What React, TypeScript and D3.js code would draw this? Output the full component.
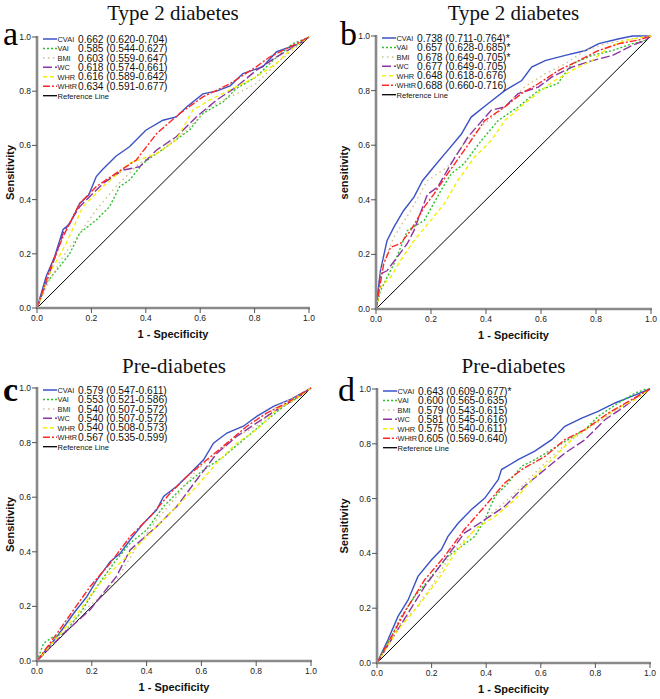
import React from "react";
import * as d3 from "d3";

type P = [number, number];

// Series names & legend values
const seriesNames = ["CVAI", "VAI", "BMI", "WC", "WHR", "WHtR"];
const panelTitles = ["Type 2 diabetes", "Type 2 diabetes", "Pre-diabetes", "Pre-diabetes"];
const panelLetters = ["a", "b", "c", "d"];
const yAxisLabels = ["Sensitivity", "sensitivity", "Sensitivity", "Sensitivity"];
const ticks = [0, 0.2, 0.4, 0.6, 0.8, 1.0];

const legendA = ["0.662 (0.620-0.704)", "0.585 (0.544-0.627)", "0.603 (0.559-0.647)", "0.618 (0.574-0.661)", "0.616 (0.589-0.642)", "0.634 (0.591-0.677)"];
const legendB = ["0.738 (0.711-0.764)*", "0.657 (0.628-0.685)*", "0.678 (0.649-0.705)*", "0.677 (0.649-0.705)", "0.648 (0.618-0.676)", "0.688 (0.660-0.716)"];
const legendC = ["0.579 (0.547-0.611)", "0.553 (0.521-0.586)", "0.540 (0.507-0.572)", "0.540 (0.507-0.572)", "0.540 (0.508-0.573)", "0.567 (0.535-0.599)"];
const legendD = ["0.643 (0.609-0.677)*", "0.600 (0.565-0.635)", "0.579 (0.543-0.615)", "0.581 (0.545-0.616)", "0.575 (0.540-0.611)", "0.605 (0.569-0.640)"];

// Panel a: Type 2 diabetes
const aCVAI: P[] = [[0,0],[0.034,0.117],[0.065,0.19],[0.096,0.29],[0.12,0.31],[0.157,0.386],[0.19,0.417],[0.218,0.485],[0.24,0.51],[0.29,0.56],[0.34,0.595],[0.40,0.656],[0.463,0.693],[0.512,0.705],[0.55,0.742],[0.61,0.79],[0.66,0.8],[0.71,0.82],[0.757,0.865],[0.83,0.89],[0.88,0.945],[0.93,0.963],[0.966,0.975],[1,1]];
const aVAI: P[] = [[0,0],[0.034,0.092],[0.083,0.153],[0.12,0.2],[0.157,0.276],[0.218,0.325],[0.267,0.374],[0.304,0.448],[0.34,0.472],[0.39,0.534],[0.44,0.57],[0.51,0.62],[0.56,0.656],[0.61,0.718],[0.684,0.76],[0.733,0.81],[0.806,0.853],[0.868,0.914],[0.94,0.975],[1,1]];
const aBMI: P[] = [[0,0],[0.047,0.104],[0.096,0.19],[0.157,0.276],[0.218,0.362],[0.29,0.448],[0.377,0.534],[0.463,0.583],[0.55,0.656],[0.635,0.742],[0.733,0.79],[0.806,0.828],[0.88,0.902],[0.953,0.963],[1,1]];
const aWC: P[] = [[0,0],[0.034,0.092],[0.096,0.276],[0.157,0.374],[0.243,0.46],[0.316,0.509],[0.377,0.521],[0.44,0.583],[0.512,0.632],[0.586,0.705],[0.66,0.767],[0.733,0.816],[0.806,0.877],[0.88,0.926],[0.953,0.969],[1,1]];
const aWHR: P[] = [[0,0],[0.047,0.129],[0.108,0.24],[0.169,0.374],[0.243,0.448],[0.34,0.534],[0.44,0.57],[0.512,0.62],[0.573,0.73],[0.635,0.767],[0.708,0.804],[0.806,0.853],[0.88,0.902],[0.904,0.926],[0.93,0.951],[1,1]];
const aWHtR: P[] = [[0,0],[0.047,0.141],[0.096,0.264],[0.157,0.386],[0.218,0.448],[0.29,0.497],[0.365,0.546],[0.44,0.644],[0.525,0.718],[0.61,0.779],[0.71,0.828],[0.806,0.89],[0.855,0.926],[0.953,0.975],[1,1]];

// Panel b: Type 2 diabetes
const bCVAI: P[] = [[0,0],[0.016,0.14],[0.04,0.25],[0.065,0.30],[0.10,0.36],[0.138,0.41],[0.169,0.47],[0.21,0.52],[0.26,0.58],[0.31,0.64],[0.346,0.703],[0.407,0.752],[0.468,0.80],[0.53,0.837],[0.566,0.886],[0.615,0.91],[0.688,0.929],[0.762,0.947],[0.81,0.972],[0.884,0.99],[0.933,1],[1,1]];
const bVAI: P[] = [[0,0],[0.016,0.067],[0.065,0.165],[0.114,0.287],[0.175,0.324],[0.236,0.434],[0.273,0.495],[0.32,0.532],[0.383,0.617],[0.444,0.69],[0.517,0.74],[0.59,0.80],[0.66,0.825],[0.713,0.898],[0.786,0.929],[0.86,0.947],[0.933,0.972],[0.98,0.984],[1,1]];
const bBMI: P[] = [[0,0],[0.016,0.14],[0.065,0.263],[0.126,0.36],[0.187,0.47],[0.26,0.52],[0.32,0.605],[0.395,0.68],[0.468,0.74],[0.54,0.813],[0.615,0.862],[0.688,0.898],[0.76,0.947],[0.835,0.972],[0.933,0.99],[1,1]];
const bWC: P[] = [[0,0],[0.016,0.128],[0.04,0.14],[0.077,0.19],[0.114,0.24],[0.138,0.287],[0.187,0.42],[0.224,0.446],[0.273,0.532],[0.334,0.63],[0.419,0.728],[0.468,0.74],[0.517,0.789],[0.59,0.813],[0.64,0.85],[0.713,0.886],[0.786,0.91],[0.86,0.929],[0.933,0.966],[0.98,0.984],[1,1]];
const bWHR: P[] = [[0,0],[0.016,0.08],[0.053,0.116],[0.089,0.177],[0.138,0.25],[0.187,0.31],[0.248,0.385],[0.297,0.47],[0.358,0.556],[0.419,0.617],[0.468,0.69],[0.54,0.752],[0.6,0.80],[0.65,0.837],[0.713,0.874],[0.786,0.91],[0.847,0.96],[0.908,0.984],[0.97,0.996],[1,1]];
const bWHtR: P[] = [[0,0],[0.028,0.165],[0.053,0.226],[0.089,0.24],[0.126,0.287],[0.175,0.373],[0.21,0.42],[0.26,0.495],[0.32,0.58],[0.395,0.69],[0.468,0.74],[0.53,0.79],[0.59,0.825],[0.664,0.874],[0.737,0.91],[0.81,0.947],[0.884,0.972],[0.957,0.986],[1,1]];

// Panel c: Pre-diabetes
const cCVAI: P[] = [[0,0],[0.073,0.089],[0.134,0.175],[0.182,0.236],[0.219,0.297],[0.267,0.364],[0.304,0.395],[0.34,0.444],[0.389,0.505],[0.437,0.554],[0.462,0.603],[0.51,0.64],[0.559,0.688],[0.608,0.737],[0.644,0.798],[0.693,0.835],[0.753,0.86],[0.802,0.896],[0.863,0.933],[0.923,0.957],[1,1]];
const cVAI: P[] = [[0,0],[0.024,0.065],[0.06,0.089],[0.097,0.101],[0.158,0.175],[0.219,0.273],[0.28,0.358],[0.34,0.432],[0.4,0.48],[0.462,0.566],[0.535,0.64],[0.608,0.70],[0.68,0.748],[0.753,0.81],[0.826,0.872],[0.9,0.933],[0.96,0.97],[1,1]];
const cBMI: P[] = [[0,0],[0.097,0.101],[0.158,0.175],[0.219,0.224],[0.29,0.297],[0.365,0.42],[0.437,0.517],[0.51,0.603],[0.583,0.70],[0.656,0.76],[0.729,0.823],[0.802,0.86],[0.875,0.933],[0.948,0.97],[1,1]];
const cWC: P[] = [[0,0],[0.097,0.101],[0.194,0.188],[0.29,0.31],[0.34,0.407],[0.437,0.493],[0.51,0.566],[0.583,0.664],[0.656,0.76],[0.729,0.823],[0.802,0.872],[0.875,0.92],[0.948,0.963],[1,1]];
const cWHR: P[] = [[0,0],[0.097,0.114],[0.158,0.188],[0.219,0.273],[0.29,0.346],[0.365,0.42],[0.437,0.493],[0.51,0.566],[0.583,0.64],[0.656,0.725],[0.729,0.798],[0.802,0.847],[0.875,0.92],[0.948,0.963],[1,1]];
const cWHtR: P[] = [[0,0],[0.073,0.101],[0.134,0.188],[0.194,0.273],[0.267,0.358],[0.34,0.456],[0.413,0.529],[0.486,0.615],[0.547,0.676],[0.62,0.737],[0.693,0.798],[0.766,0.86],[0.838,0.908],[0.911,0.945],[1,1]];

// Panel d: Pre-diabetes
const dCVAI: P[] = [[0,0],[0.04,0.085],[0.077,0.17],[0.114,0.23],[0.15,0.316],[0.2,0.377],[0.236,0.414],[0.26,0.462],[0.297,0.51],[0.346,0.56],[0.395,0.602],[0.444,0.669],[0.456,0.706],[0.517,0.742],[0.578,0.773],[0.64,0.815],[0.688,0.864],[0.75,0.894],[0.81,0.918],[0.872,0.949],[0.933,0.973],[1,1]];
const dVAI: P[] = [[0,0],[0.053,0.097],[0.089,0.17],[0.138,0.243],[0.2,0.316],[0.26,0.39],[0.31,0.426],[0.358,0.462],[0.395,0.523],[0.432,0.608],[0.48,0.657],[0.53,0.718],[0.578,0.742],[0.64,0.779],[0.7,0.815],[0.762,0.852],[0.81,0.9],[0.884,0.949],[0.945,0.985],[0.98,0.998],[1,1]];
const dBMI: P[] = [[0,0],[0.077,0.134],[0.138,0.195],[0.2,0.28],[0.273,0.40],[0.346,0.474],[0.42,0.547],[0.493,0.608],[0.566,0.681],[0.64,0.754],[0.713,0.815],[0.786,0.864],[0.86,0.912],[0.933,0.961],[1,1]];
const dWC: P[] = [[0,0],[0.053,0.085],[0.114,0.182],[0.175,0.28],[0.248,0.377],[0.32,0.474],[0.395,0.523],[0.468,0.572],[0.54,0.645],[0.615,0.706],[0.688,0.766],[0.762,0.815],[0.835,0.888],[0.908,0.937],[0.97,0.985],[1,1]];
const dWHR: P[] = [[0,0],[0.077,0.122],[0.15,0.207],[0.224,0.304],[0.285,0.40],[0.358,0.487],[0.432,0.535],[0.505,0.596],[0.578,0.681],[0.652,0.754],[0.725,0.827],[0.798,0.876],[0.872,0.925],[0.945,0.961],[1,1]];
const dWHtR: P[] = [[0,0],[0.053,0.097],[0.114,0.207],[0.175,0.304],[0.248,0.39],[0.32,0.487],[0.395,0.572],[0.468,0.657],[0.53,0.706],[0.615,0.754],[0.688,0.815],[0.762,0.852],[0.847,0.912],[0.933,0.961],[1,1]];

const panelSeries: P[][][] = [
  [aCVAI, aVAI, aBMI, aWC, aWHR, aWHtR],
  [bCVAI, bVAI, bBMI, bWC, bWHR, bWHtR],
  [cCVAI, cVAI, cBMI, cWC, cWHR, cWHtR],
  [dCVAI, dVAI, dBMI, dWC, dWHR, dWHtR],
];
const panelLegends = [legendA, legendB, legendC, legendD];

const styles = [
  { color: "#3a52c6", dash: "" },
  { color: "#2cc22c", dash: "2,2" },
  { color: "#cfbf8a", dash: "1.5,3.5" },
  { color: "#8a36a2", dash: "9,3" },
  { color: "#f2f000", dash: "4,3" },
  { color: "#ff2626", dash: "7,2,2,2" },
];

const boxes = [
  { x0: 37, x1: 309, y0: 37, y1: 308, title: 20, letterX: 3, letterY: 45, ylab: 10 },
  { x0: 376, x1: 651, y0: 36, y1: 309, title: 20, letterX: 340, letterY: 45, ylab: 344 },
  { x0: 37, x1: 311, y0: 388, y1: 661, title: 373, letterX: 3, letterY: 401, ylab: 10 },
  { x0: 377, x1: 650, y0: 389, y1: 663, title: 373, letterX: 338, letterY: 401, ylab: 344 },
];

const font = "Arial, 'Liberation Sans', sans-serif";
const serif = "'Times New Roman', 'Liberation Serif', serif";

function Panel({ i }: { i: number }) {
  const b = boxes[i];
  const x = d3.scaleLinear().domain([0, 1]).range([b.x0, b.x1]);
  const y = d3.scaleLinear().domain([0, 1]).range([b.y1, b.y0]);
  const line = d3.line<P>().x((d) => x(d[0])).y((d) => y(d[1]));
  const cx = (b.x0 + b.x1) / 2;
  const cy = (b.y0 + b.y1) / 2;
  const rowH = 9.45;
  return (
    <g>
      <text x={cx} y={b.title} textAnchor="middle" fontFamily={serif} fontSize={21} fill="#111">{panelTitles[i]}</text>
      <text x={b.letterX} y={b.letterY} fontFamily={serif} fontSize={34} fontWeight={i === 2 ? "bold" : "normal"} fill="#000">{panelLetters[i]}</text>
      {/* reference line */}
      <path d={line([[0, 0], [1, 1]]) || ""} stroke="#000" strokeWidth={1} fill="none" />
      {panelSeries[i].map((s, k) => (
        <path key={k} d={line(s) || ""} stroke={styles[k].color} strokeWidth={1.4} strokeDasharray={styles[k].dash} fill="none" />
      ))}
      {/* axes */}
      <line x1={b.x0} x2={b.x0} y1={b.y0 - 1} y2={b.y1 + 1} stroke="#8a8a8a" strokeWidth={2.6} />
      <line x1={b.x0 - 1} x2={b.x1 + 1} y1={b.y1} y2={b.y1} stroke="#8a8a8a" strokeWidth={2.6} />
      {ticks.map((t) => (
        <g key={"y" + t}>
          <line x1={b.x0 - 5} x2={b.x0} y1={y(t)} y2={y(t)} stroke="#555" strokeWidth={1} />
          <text x={b.x0 - 6} y={y(t)} dy="0.35em" textAnchor="end" fontFamily={font} fontSize={8.5} fill="#222">{t.toFixed(1)}</text>
        </g>
      ))}
      {ticks.map((t) => (
        <g key={"x" + t}>
          <line x1={x(t)} x2={x(t)} y1={b.y1} y2={b.y1 + 5} stroke="#555" strokeWidth={1} />
          <text x={x(t)} y={b.y1 + 13} textAnchor="middle" fontFamily={font} fontSize={8.5} fill="#222">{t.toFixed(1)}</text>
        </g>
      ))}
      <text x={cx} y={b.y1 + 30} textAnchor="middle" fontFamily={font} fontSize={11} fontWeight="bold" fill="#111">1 - Specificity</text>
      <text transform={`translate(${b.ylab},${cy}) rotate(-90)`} textAnchor="middle" dy="0.35em" fontFamily={font} fontSize={11} fontWeight="bold" fill="#111">{yAxisLabels[i]}</text>
      {/* legend */}
      {seriesNames.map((n, k) => {
        const ly = b.y0 + 2 + k * rowH;
        return (
          <g key={n}>
            <line x1={b.x0 + 6} x2={b.x0 + 20} y1={ly} y2={ly} stroke={styles[k].color} strokeWidth={1.5} strokeDasharray={styles[k].dash} />
            <text x={b.x0 + 20.5} y={ly + 2.8} fontFamily={font} fontSize={7.4} fill="#222">{n}</text>
            <text x={b.x0 + 41} y={ly + 3.6} fontFamily={font} fontSize={10.2} fill="#111">{panelLegends[i][k]}</text>
          </g>
        );
      })}
      <line x1={b.x0 + 6} x2={b.x0 + 20} y1={b.y0 + 2 + 6 * rowH} y2={b.y0 + 2 + 6 * rowH} stroke="#000" strokeWidth={1.3} />
      <text x={b.x0 + 20.5} y={b.y0 + 2 + 6 * rowH + 2.8} fontFamily={font} fontSize={7.6} fill="#111">Reference Line</text>
    </g>
  );
}

export default function App() {
  return (
    <svg width={660} height={699} style={{ position: "absolute", left: 0, top: 0, background: "#fff" }}>
      <rect width={660} height={699} fill="#fff" />
      {[0, 1, 2, 3].map((i) => (
        <Panel key={i} i={i} />
      ))}
    </svg>
  );
}
